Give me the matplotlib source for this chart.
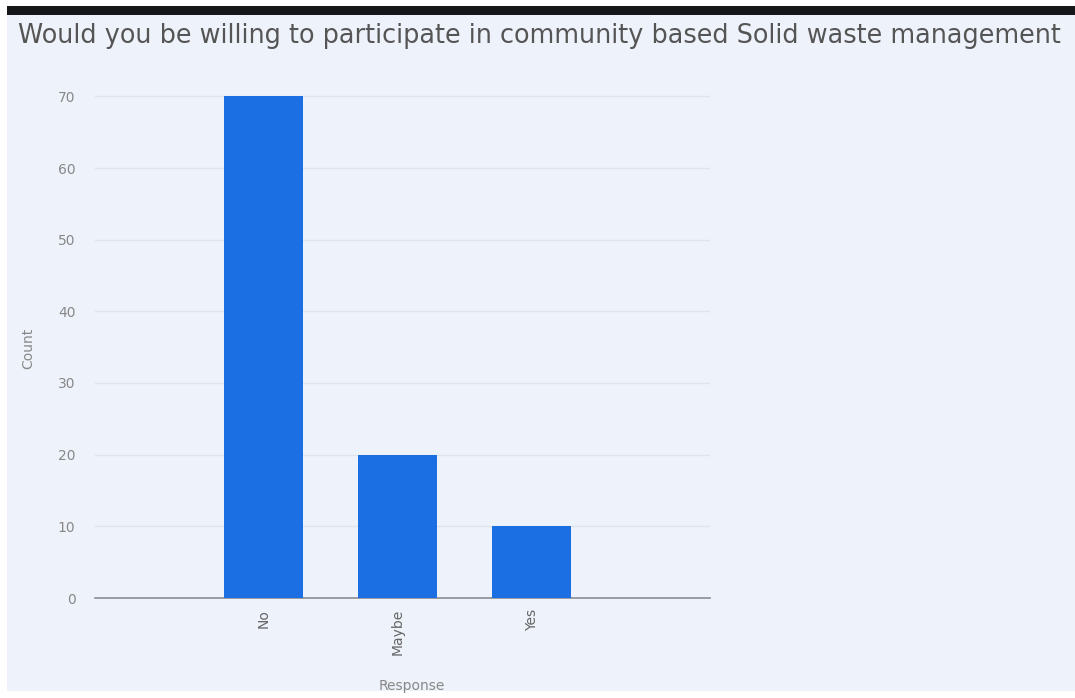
import numpy as np
import matplotlib.pyplot as plt
from matplotlib.patches import Rectangle

responses = ["No", "Maybe", "Yes"]
counts = [70, 20, 10]

bg = "#eef2fa"
fig = plt.figure(figsize=(10.75, 6.98), dpi=100, facecolor="white")

# page background and the dark strip on top
fig.patches.append(Rectangle((7 / 1075, 0.01), 1, 1 - 0.01 - 15 / 698,
                             transform=fig.transFigure, facecolor=bg, edgecolor="none", zorder=-2))
fig.patches.append(Rectangle((7 / 1075, 1 - 15 / 698), 1, 9 / 698,
                             transform=fig.transFigure, facecolor="#151719", edgecolor="none", zorder=-1))

ax = fig.add_axes([95 / 1075, 1 - 598 / 698, (710 - 95) / 1075, (598 - 82) / 698])
ax.set_facecolor(bg)

x = np.arange(len(responses))
ax.bar(x, counts, width=0.59, color="#1b6fe3", zorder=3)

ax.set_xlim(-1.26, 3.33)
ax.set_ylim(0, 72)
ax.set_yticks(np.arange(0, 71, 10))
ax.set_xticks(x)
ax.set_xticklabels(responses, rotation=90, color="#666666", fontsize=10)
ax.tick_params(axis="y", colors="#888888", labelsize=10, length=0, pad=14)
ax.tick_params(axis="x", length=0, pad=8)
ax.grid(axis="y", color="#dfe3ea", linewidth=1, zorder=0)
for s in ["top", "right", "left"]:
    ax.spines[s].set_visible(False)
ax.spines["bottom"].set_color("#8a8d92")
ax.spines["bottom"].set_linewidth(1.2)

fig.text(412 / 1075, 1 - 686 / 698, "Response", color="#888888",
         fontsize=10, ha="center", va="center")
fig.text(28 / 1075, 1 - 348 / 698, "Count", rotation=90, color="#888888",
         fontsize=10, ha="center", va="center")

fig.text(18 / 1075, 1 - 36 / 698,
         "Would you be willing to participate in community based Solid waste management",
         fontsize=18.4, color="#555555", ha="left", va="center")

fig.savefig("out.png", dpi=100, facecolor=fig.get_facecolor())
